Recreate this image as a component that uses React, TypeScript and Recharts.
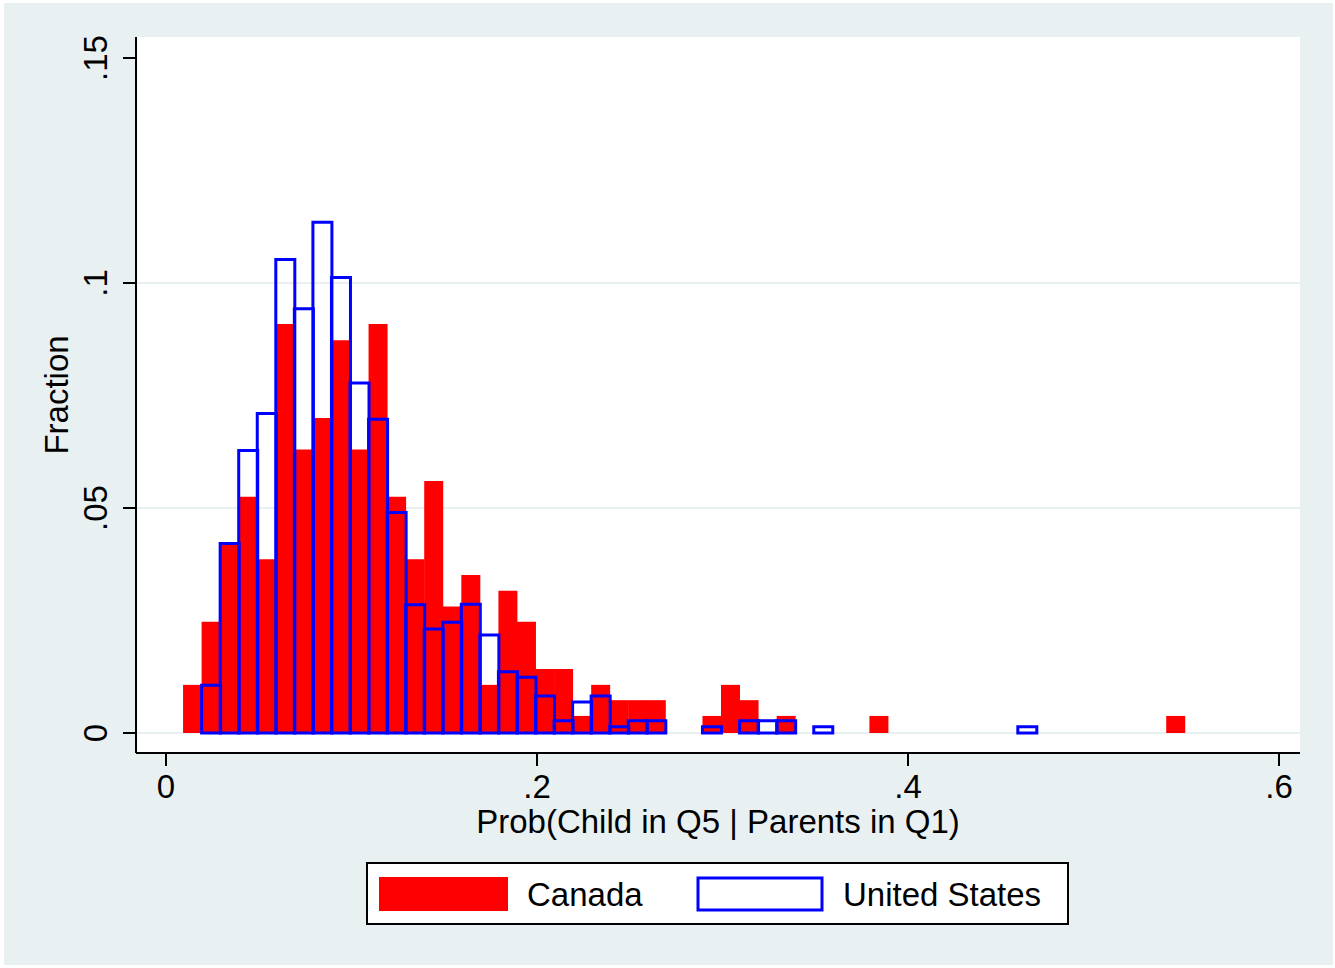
import { ComposedChart, Bar, XAxis, YAxis, CartesianGrid, Legend, Label } from "recharts";

// histogram bins: left edge of first bin and common width
const BIN_START = 0.0092;
const BIN_WIDTH = 0.01;

// fraction per bin (bin 0 .. bin 53)
const canada = [
  0.0107, 0.0247, 0.0422, 0.0525, 0.0386, 0.0909, 0.063, 0.07, 0.0873, 0.063,
  0.0909, 0.0525, 0.0386, 0.056, 0.0281, 0.0351, 0.0107, 0.0316, 0.0247, 0.0142,
  0.0142, 0.0038, 0.0107, 0.0073, 0.0073, 0.0073, 0, 0, 0.0038, 0.0107,
  0.0073, 0, 0.0038, 0, 0, 0, 0, 0.0038, 0, 0,
  0, 0, 0, 0, 0, 0, 0, 0, 0, 0,
  0, 0, 0, 0.0038,
];
const unitedStates = [
  0, 0.0106, 0.0421, 0.0628, 0.071, 0.1052, 0.0943, 0.1135, 0.1012, 0.0778,
  0.0697, 0.049, 0.0285, 0.0231, 0.0246, 0.0286, 0.0218, 0.0136, 0.0124, 0.0082,
  0.0027, 0.0069, 0.0082, 0.0014, 0.0027, 0.0027, 0, 0, 0.0014, 0,
  0.0027, 0.0027, 0.0027, 0, 0.0014, 0, 0, 0, 0, 0,
  0, 0, 0, 0, 0, 0.0014, 0, 0, 0, 0,
  0, 0, 0, 0,
];

const xTicks = [0, 0.2, 0.4, 0.6];
const yTicks = [0, 0.05, 0.1, 0.15];
const gridValues = [0, 0.05, 0.1];

const data = canada.map((v, i) => ({
  x: BIN_START + BIN_WIDTH * (i + 0.5),
  canada: v,
  us: unitedStates[i],
}));

const FONT = '"Liberation Sans", Arial, Helvetica, sans-serif';
const BG = "#e9f0f2";
const RED = "#ff0000";
const BLUE = "#0000ff";

const fmt = (v: number) => (v === 0 ? "0" : String(v).replace(/^0/, ""));

const XTick = ({ x, y, payload }: any) => (
  <text x={x} y={y + 32} textAnchor="middle" fontSize={33} fontFamily={FONT} fill="#000">
    {fmt(payload.value)}
  </text>
);

const YTick = ({ x, y, payload }: any) => (
  <text
    x={x - 16}
    y={y}
    transform={`rotate(-90 ${x - 16} ${y})`}
    textAnchor="middle"
    fontSize={33}
    fontFamily={FONT}
    fill="#000"
  >
    {fmt(payload.value)}
  </text>
);

const LegendBox = () => (
  <svg width={703} height={63} style={{ display: "block" }}>
    <rect x={1} y={1} width={701} height={61} fill="#fff" stroke="#000" strokeWidth={2} />
    <rect x={13} y={15} width={129} height={34} fill={RED} />
    <text x={161} y={44} fontSize={33} fontFamily={FONT} fill="#000">
      Canada
    </text>
    <rect x={332} y={16} width={124} height={32} fill="none" stroke={BLUE} strokeWidth={3} />
    <text x={477} y={44} fontSize={33} fontFamily={FONT} fill="#000">
      United States
    </text>
  </svg>
);

export default function App() {
  return (
    <div style={{ position: "relative", width: 1335, height: 968, background: "#fff", fontFamily: FONT }}>
      <style>{"body{margin:0}"}</style>
      <div style={{ position: "absolute", left: 4, top: 3, width: 1329, height: 962, background: BG }} />
      <div style={{ position: "absolute", left: 0, top: 0 }}>
        <ComposedChart
          width={1335}
          height={968}
          data={data}
          margin={{ top: 37, right: 35, bottom: 0, left: 0 }}
          barCategoryGap={0}
          barGap={0}
        >
          <CartesianGrid
            xAxisId="ca"
            vertical={false}
            horizontalValues={gridValues}
            stroke={BG}
            strokeWidth={2}
            fill="#fff"
            fillOpacity={1}
          />
          <XAxis
            xAxisId="ca"
            dataKey="x"
            type="number"
            domain={[-0.01617, 0.61132]}
            allowDataOverflow
            ticks={xTicks}
            height={215}
            tickSize={13}
            tickMargin={0}
            tick={<XTick />}
            axisLine={{ stroke: "#000", strokeWidth: 2 }}
            tickLine={{ stroke: "#000", strokeWidth: 2 }}
          >
            <Label
              content={({ viewBox }: any) => (
                <text
                  x={viewBox.x + viewBox.width / 2}
                  y={833}
                  textAnchor="middle"
                  fontSize={33}
                  fontFamily={FONT}
                  fill="#000"
                >
                  Prob(Child in Q5 | Parents in Q1)
                </text>
              )}
            />
          </XAxis>
          <XAxis
            xAxisId="us"
            dataKey="x"
            type="number"
            domain={[-0.01617, 0.61132]}
            allowDataOverflow
            hide
          />
          <YAxis
            type="number"
            domain={[-0.00444, 0.15467]}
            allowDataOverflow
            ticks={yTicks}
            width={136}
            tickSize={13}
            tickMargin={0}
            tick={<YTick />}
            axisLine={{ stroke: "#000", strokeWidth: 2 }}
            tickLine={{ stroke: "#000", strokeWidth: 2 }}
          >
            <Label
              content={({ viewBox }: any) => {
                const cy = viewBox.y + viewBox.height / 2;
                return (
                  <text
                    x={68}
                    y={cy}
                    transform={`rotate(-90 68 ${cy})`}
                    textAnchor="middle"
                    fontSize={33}
                    fontFamily={FONT}
                    fill="#000"
                  >
                    Fraction
                  </text>
                );
              }}
            />
          </YAxis>
          <Bar xAxisId="ca" dataKey="canada" name="Canada" fill={RED} isAnimationActive={false} />
          <Bar
            xAxisId="us"
            dataKey="us"
            name="United States"
            fill="none"
            stroke={BLUE}
            strokeWidth={3}
            isAnimationActive={false}
          />
          <Legend
            layout="horizontal"
            verticalAlign="middle"
            align="center"
            wrapperStyle={{ left: 366, top: 862, width: 703, height: 63 }}
            content={() => <LegendBox />}
          />
        </ComposedChart>
      </div>
    </div>
  );
}
